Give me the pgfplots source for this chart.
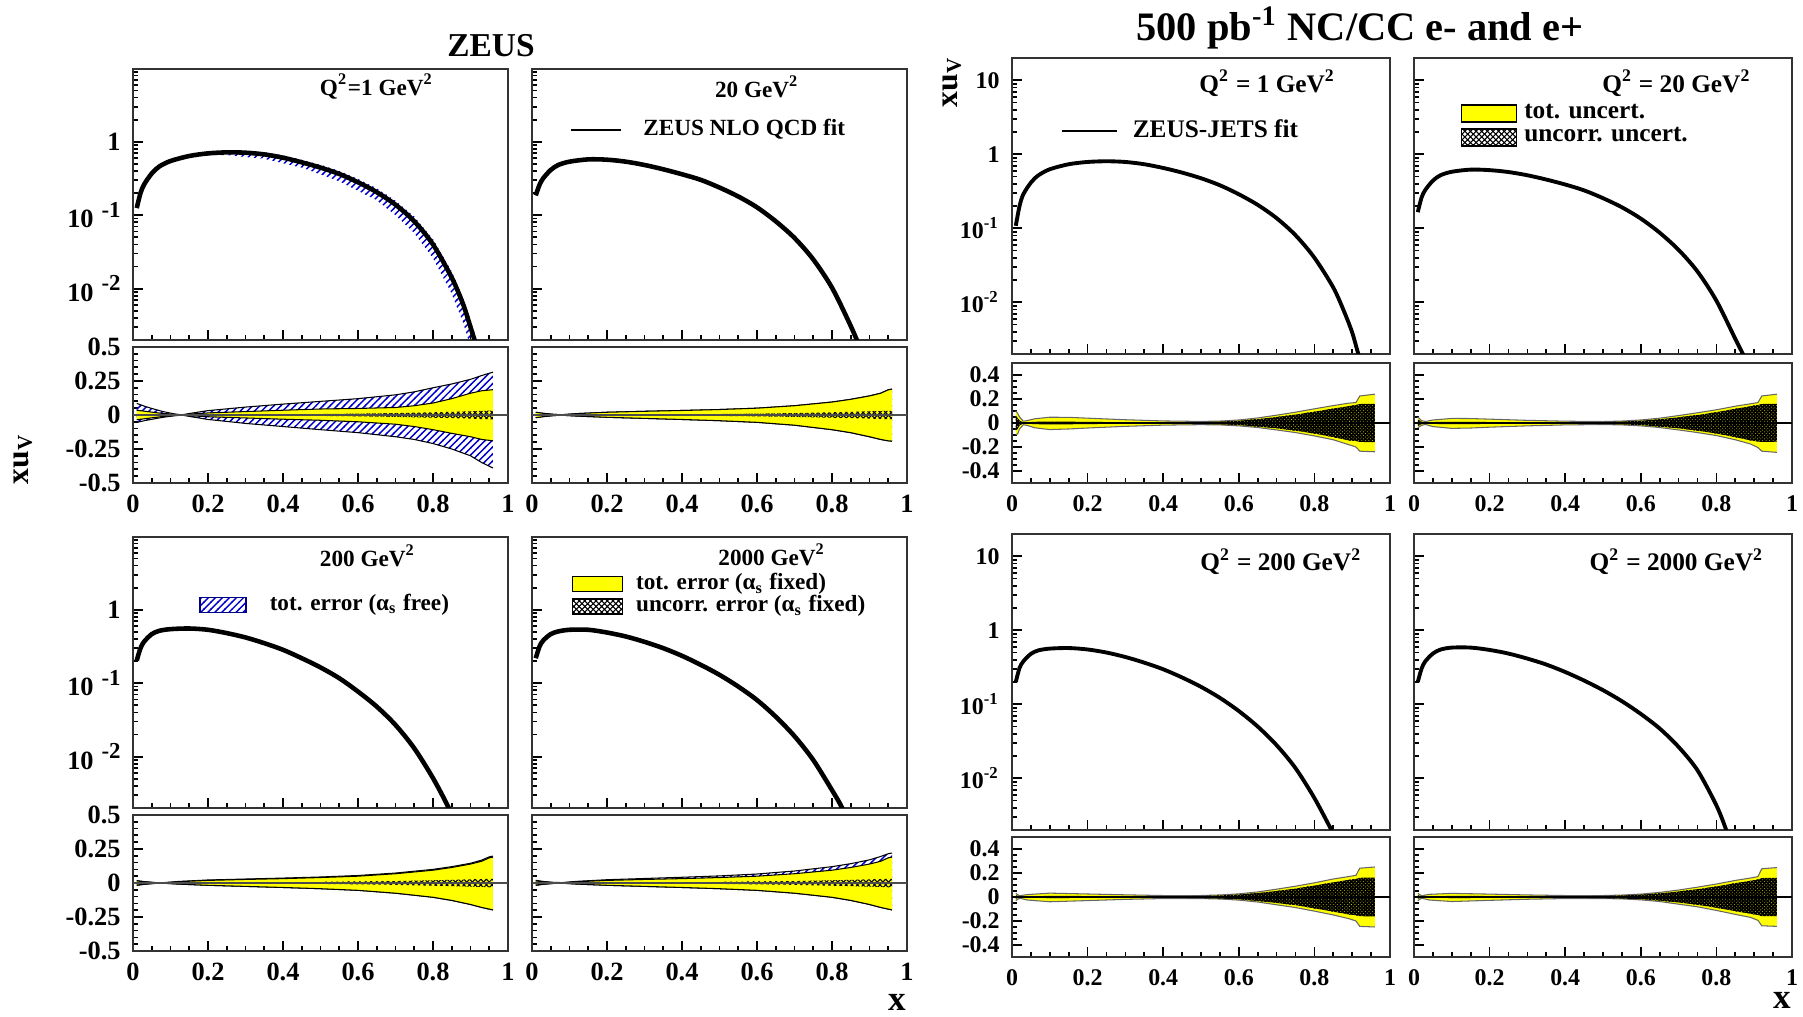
\documentclass[border=0pt]{standalone}
\usepackage{fontspec}
\setmainfont{Liberation Serif}
\usepackage{pgfplots}
\pgfplotsset{compat=1.18}
\usepackage{pgfplotstable}
\usetikzlibrary{patterns}

\pgfdeclarepatternformonly{bluehatch}{\pgfqpoint{-0.2pt}{-0.2pt}}{\pgfqpoint{2.2pt}{2.2pt}}{\pgfqpoint{2pt}{2pt}}{%
  \pgfsetlinewidth{0.4pt}%
  \pgfpathmoveto{\pgfqpoint{-0.2pt}{-0.2pt}}%
  \pgfpathlineto{\pgfqpoint{2.2pt}{2.2pt}}%
  \pgfusepath{stroke}}
\pgfdeclarepatternformonly{checker}{\pgfqpoint{-0.2pt}{-0.2pt}}{\pgfqpoint{1.8pt}{1.8pt}}{\pgfqpoint{1.6pt}{1.6pt}}{%
  \pgfsetlinewidth{0.3pt}%
  \pgfpathmoveto{\pgfqpoint{-0.2pt}{-0.2pt}}\pgfpathlineto{\pgfqpoint{1.8pt}{1.8pt}}%
  \pgfpathmoveto{\pgfqpoint{-0.2pt}{1.8pt}}\pgfpathlineto{\pgfqpoint{1.8pt}{-0.2pt}}%
  \pgfusepath{stroke}}
\pgfdeclarepatternformonly{darkcross}{\pgfqpoint{-0.1pt}{-0.1pt}}{\pgfqpoint{1.1pt}{1.1pt}}{\pgfqpoint{1pt}{1pt}}{%
  \pgfsetlinewidth{0.45pt}%
  \pgfpathmoveto{\pgfqpoint{-0.1pt}{-0.1pt}}\pgfpathlineto{\pgfqpoint{1.1pt}{1.1pt}}%
  \pgfpathmoveto{\pgfqpoint{-0.1pt}{1.1pt}}\pgfpathlineto{\pgfqpoint{1.1pt}{-0.1pt}}%
  \pgfusepath{stroke}}

\definecolor{rootyellow}{RGB}{255,255,0}

\newcommand{\zt}{\fontsize{7.5}{8}\selectfont\bfseries}
\newcommand{\jt}{\fontsize{6.8}{7.5}\selectfont\bfseries}
\newcommand{\pl}{\fontsize{6.6}{7.5}\selectfont\bfseries}
\newcommand{\pj}{\fontsize{7.2}{8}\selectfont\bfseries}
\newcommand{\zexp}[1]{10\hspace{0.3em}\raisebox{0.85ex}{\fontsize{6.5}{6.5}\selectfont #1}}
\newcommand{\jexp}[1]{10\textsuperscript{#1}}

% ---------------- main curves (xu_v) ----------------
\pgfplotstableread{
x y
0.01 0.125
0.02 0.20
0.03 0.264
0.05 0.37
0.07 0.46
0.10 0.547
0.15 0.64
0.20 0.695
0.25 0.717
0.30 0.71
0.35 0.673
0.40 0.607
0.45 0.525
0.50 0.445
0.55 0.365
0.60 0.281
0.65 0.206
0.70 0.139
0.75 0.0826
0.80 0.040
0.85 0.0141
0.88 0.0062
0.90 0.0030
0.92 0.0014
}\ZmA
\pgfplotstableread{
x y
0.01 0.186
0.02 0.259
0.03 0.319
0.05 0.413
0.07 0.483
0.10 0.536
0.15 0.576
0.20 0.570
0.25 0.536
0.30 0.483
0.35 0.422
0.40 0.361
0.45 0.303
0.50 0.238
0.55 0.180
0.60 0.128
0.65 0.0826
0.70 0.049
0.75 0.025
0.80 0.0103
0.85 0.0031
0.88 0.00135
}\ZmB
\pgfplotstableread{
x y
0.01 0.204
0.02 0.30
0.03 0.37
0.05 0.466
0.07 0.517
0.10 0.545
0.15 0.556
0.20 0.534
0.25 0.481
0.30 0.42
0.35 0.351
0.40 0.285
0.45 0.219
0.50 0.164
0.55 0.117
0.60 0.077
0.65 0.048
0.70 0.027
0.75 0.013
0.80 0.0051
0.84 0.0021
0.86 0.0012
}\ZmC
\pgfplotstableread{
x y
0.01 0.219
0.02 0.316
0.03 0.382
0.05 0.466
0.07 0.507
0.10 0.534
0.15 0.534
0.20 0.49
0.25 0.433
0.30 0.366
0.35 0.30
0.40 0.236
0.45 0.178
0.50 0.13
0.55 0.090
0.60 0.059
0.65 0.035
0.70 0.019
0.75 0.009
0.80 0.0035
0.825 0.0021
0.845 0.0012
}\ZmD
\pgfplotstableread{
x y
0.01 0.108
0.02 0.20
0.03 0.288
0.05 0.414
0.07 0.52
0.10 0.627
0.15 0.733
0.20 0.787
0.25 0.804
0.30 0.787
0.35 0.733
0.40 0.653
0.45 0.565
0.50 0.474
0.55 0.381
0.60 0.288
0.65 0.207
0.70 0.137
0.75 0.0805
0.80 0.040
0.85 0.0158
0.88 0.0072
0.90 0.0039
0.915 0.0021
0.93 0.0012
}\JmA
\pgfplotstableread{
x y
0.01 0.165
0.02 0.26
0.03 0.33
0.05 0.44
0.07 0.52
0.10 0.58
0.15 0.62
0.20 0.61
0.25 0.575
0.30 0.52
0.35 0.455
0.40 0.39
0.45 0.325
0.50 0.255
0.55 0.192
0.60 0.135
0.65 0.087
0.70 0.051
0.75 0.026
0.80 0.0105
0.85 0.0032
0.87 0.0020
0.88 0.0015
}\JmB
\pgfplotstableread{
x y
0.01 0.20
0.02 0.31
0.03 0.38
0.05 0.48
0.07 0.535
0.10 0.565
0.15 0.575
0.20 0.55
0.25 0.50
0.30 0.435
0.35 0.365
0.40 0.297
0.45 0.23
0.50 0.172
0.55 0.122
0.60 0.081
0.65 0.050
0.70 0.028
0.75 0.0137
0.80 0.0054
0.845 0.0020
0.86 0.0014
}\JmC
\pgfplotstableread{
x y
0.01 0.20
0.02 0.303
0.03 0.381
0.05 0.484
0.07 0.548
0.10 0.583
0.15 0.583
0.20 0.542
0.25 0.484
0.30 0.414
0.35 0.344
0.40 0.273
0.45 0.209
0.50 0.155
0.55 0.11
0.60 0.074
0.65 0.047
0.70 0.0265
0.75 0.0128
0.80 0.0043
0.826 0.0020
0.84 0.0012
}\JmD

% ---------------- ratio bands ----------------
\pgfplotstableread{
x bu bl yu yl cu cl
0.01 0.085 -0.055 0.035 -0.035 0.006 -0.006
0.03 0.065 -0.042 0.028 -0.028 0.005 -0.005
0.05 0.048 -0.032 0.021 -0.021 0.004 -0.004
0.08 0.025 -0.017 0.011 -0.011 0.003 -0.003
0.11 0.008 -0.006 0.004 -0.004 0.002 -0.002
0.13 0.001 -0.001 0.001 -0.001 0.001 -0.001
0.16 0.015 -0.015 0.008 -0.007 0.002 -0.002
0.20 0.032 -0.033 0.015 -0.013 0.003 -0.003
0.30 0.058 -0.062 0.025 -0.022 0.004 -0.004
0.40 0.080 -0.085 0.035 -0.031 0.005 -0.005
0.50 0.100 -0.108 0.044 -0.039 0.007 -0.007
0.60 0.120 -0.130 0.048 -0.050 0.010 -0.010
0.70 0.148 -0.160 0.055 -0.068 0.014 -0.014
0.75 0.170 -0.180 0.068 -0.085 0.017 -0.017
0.80 0.200 -0.210 0.088 -0.108 0.020 -0.020
0.85 0.228 -0.250 0.120 -0.135 0.023 -0.023
0.90 0.262 -0.300 0.160 -0.160 0.027 -0.027
0.93 0.290 -0.350 0.178 -0.180 0.030 -0.030
0.96 0.315 -0.390 0.186 -0.190 0.032 -0.032
}\ZrA
\pgfplotstableread{
x bu bl yu yl cu cl
0.01 0.020 -0.020 0.020 -0.020 0.004 -0.004
0.03 0.012 -0.012 0.012 -0.012 0.003 -0.003
0.06 0.004 -0.004 0.004 -0.004 0.001 -0.001
0.08 0.002 -0.002 0.002 -0.002 0.001 -0.001
0.12 0.010 -0.008 0.010 -0.008 0.002 -0.002
0.20 0.020 -0.017 0.020 -0.017 0.003 -0.003
0.30 0.027 -0.025 0.027 -0.025 0.004 -0.004
0.40 0.033 -0.033 0.033 -0.033 0.005 -0.005
0.50 0.040 -0.042 0.040 -0.042 0.007 -0.007
0.60 0.050 -0.054 0.050 -0.054 0.010 -0.010
0.70 0.068 -0.075 0.068 -0.075 0.014 -0.014
0.80 0.095 -0.108 0.095 -0.108 0.020 -0.020
0.85 0.115 -0.130 0.115 -0.130 0.023 -0.023
0.90 0.140 -0.160 0.140 -0.160 0.027 -0.027
0.93 0.160 -0.180 0.160 -0.180 0.029 -0.029
0.95 0.185 -0.190 0.185 -0.190 0.031 -0.031
0.96 0.190 -0.192 0.190 -0.192 0.031 -0.031
}\ZrB
\pgfplotstableread{
x bu bl yu yl cu cl
0.01 0.018 -0.018 0.015 -0.015 0.004 -0.004
0.03 0.010 -0.010 0.009 -0.009 0.003 -0.003
0.06 0.003 -0.003 0.002 -0.002 0.001 -0.001
0.08 0.002 -0.002 0.001 -0.001 0.001 -0.001
0.12 0.011 -0.008 0.009 -0.008 0.002 -0.002
0.20 0.022 -0.017 0.019 -0.017 0.003 -0.003
0.30 0.029 -0.025 0.026 -0.025 0.004 -0.004
0.40 0.036 -0.033 0.032 -0.033 0.005 -0.005
0.50 0.044 -0.042 0.040 -0.042 0.007 -0.007
0.60 0.055 -0.054 0.050 -0.054 0.010 -0.010
0.70 0.073 -0.075 0.068 -0.075 0.014 -0.014
0.80 0.100 -0.105 0.094 -0.105 0.020 -0.020
0.85 0.120 -0.128 0.114 -0.128 0.023 -0.023
0.90 0.145 -0.158 0.139 -0.158 0.027 -0.027
0.93 0.168 -0.180 0.160 -0.180 0.029 -0.029
0.95 0.192 -0.192 0.185 -0.192 0.031 -0.031
0.96 0.198 -0.198 0.190 -0.198 0.031 -0.031
}\ZrC
\pgfplotstableread{
x bu bl yu yl cu cl
0.01 0.020 -0.018 0.015 -0.015 0.004 -0.004
0.03 0.011 -0.010 0.009 -0.009 0.003 -0.003
0.06 0.004 -0.003 0.002 -0.002 0.001 -0.001
0.08 0.003 -0.002 0.001 -0.001 0.001 -0.001
0.12 0.012 -0.008 0.009 -0.008 0.002 -0.002
0.20 0.024 -0.017 0.019 -0.017 0.003 -0.003
0.30 0.033 -0.025 0.026 -0.025 0.004 -0.004
0.40 0.042 -0.033 0.032 -0.033 0.005 -0.005
0.50 0.052 -0.042 0.040 -0.042 0.007 -0.007
0.60 0.066 -0.054 0.050 -0.054 0.010 -0.010
0.70 0.088 -0.075 0.068 -0.075 0.014 -0.014
0.80 0.120 -0.105 0.094 -0.105 0.020 -0.020
0.85 0.142 -0.128 0.114 -0.128 0.023 -0.023
0.90 0.170 -0.158 0.139 -0.158 0.027 -0.027
0.93 0.195 -0.180 0.160 -0.180 0.029 -0.029
0.95 0.215 -0.192 0.185 -0.192 0.031 -0.031
0.96 0.220 -0.198 0.190 -0.198 0.031 -0.031
}\ZrD
\pgfplotstableread{
x yu yl cu cl
0.01 0.10 -0.10 0.06 -0.06
0.015 0.08 -0.09 0.04 -0.05
0.02 0.05 -0.05 0.02 -0.02
0.03 0.015 -0.015 0.005 -0.005
0.04 0.02 -0.02 0.006 -0.006
0.06 0.035 -0.04 0.01 -0.01
0.10 0.048 -0.055 0.012 -0.012
0.15 0.047 -0.050 0.011 -0.011
0.20 0.040 -0.042 0.009 -0.009
0.30 0.027 -0.028 0.007 -0.007
0.40 0.017 -0.018 0.006 -0.006
0.50 0.013 -0.014 0.008 -0.009
0.55 0.016 -0.016 0.012 -0.012
0.60 0.025 -0.024 0.019 -0.018
0.65 0.042 -0.038 0.032 -0.030
0.70 0.065 -0.058 0.050 -0.045
0.75 0.090 -0.080 0.070 -0.064
0.80 0.118 -0.108 0.094 -0.088
0.85 0.145 -0.140 0.120 -0.118
0.89 0.165 -0.180 0.140 -0.145
0.91 0.170 -0.200 0.150 -0.150
0.92 0.225 -0.235 0.158 -0.158
0.96 0.240 -0.240 0.160 -0.160
}\JrA
\pgfplotstableread{
x yu yl cu cl
0.01 0.05 -0.04 0.03 -0.025
0.02 0.02 -0.02 0.01 -0.01
0.03 0.012 -0.012 0.005 -0.005
0.05 0.025 -0.03 0.008 -0.008
0.10 0.038 -0.045 0.010 -0.010
0.15 0.037 -0.042 0.009 -0.009
0.20 0.032 -0.035 0.008 -0.008
0.30 0.022 -0.024 0.006 -0.006
0.40 0.015 -0.016 0.006 -0.006
0.50 0.012 -0.013 0.008 -0.009
0.55 0.016 -0.016 0.012 -0.012
0.60 0.025 -0.024 0.019 -0.018
0.65 0.040 -0.038 0.031 -0.030
0.70 0.062 -0.058 0.048 -0.045
0.75 0.085 -0.080 0.066 -0.064
0.80 0.110 -0.105 0.090 -0.088
0.85 0.140 -0.140 0.118 -0.118
0.89 0.160 -0.175 0.140 -0.145
0.91 0.170 -0.205 0.150 -0.155
0.92 0.225 -0.235 0.158 -0.158
0.96 0.240 -0.245 0.160 -0.156
}\JrB
\pgfplotstableread{
x yu yl cu cl
0.01 0.03 -0.03 0.015 -0.015
0.02 0.01 -0.01 0.005 -0.005
0.04 0.02 -0.025 0.006 -0.006
0.10 0.032 -0.04 0.009 -0.009
0.20 0.025 -0.030 0.008 -0.008
0.30 0.018 -0.020 0.006 -0.006
0.40 0.012 -0.013 0.006 -0.006
0.50 0.012 -0.013 0.009 -0.010
0.55 0.017 -0.017 0.013 -0.013
0.60 0.026 -0.026 0.020 -0.020
0.65 0.042 -0.042 0.033 -0.033
0.70 0.065 -0.065 0.050 -0.050
0.75 0.090 -0.088 0.070 -0.068
0.80 0.118 -0.118 0.095 -0.095
0.85 0.150 -0.150 0.122 -0.122
0.89 0.170 -0.180 0.142 -0.145
0.91 0.180 -0.200 0.150 -0.152
0.92 0.240 -0.245 0.160 -0.160
0.96 0.250 -0.250 0.162 -0.162
}\JrC
\pgfplotstableread{
x yu yl cu cl
0.01 0.03 -0.03 0.015 -0.015
0.02 0.01 -0.01 0.005 -0.005
0.04 0.022 -0.025 0.006 -0.006
0.10 0.030 -0.038 0.009 -0.009
0.20 0.024 -0.028 0.008 -0.008
0.30 0.017 -0.019 0.006 -0.006
0.40 0.012 -0.013 0.006 -0.006
0.50 0.012 -0.013 0.009 -0.010
0.55 0.016 -0.016 0.013 -0.013
0.60 0.024 -0.024 0.019 -0.019
0.65 0.038 -0.038 0.030 -0.030
0.70 0.058 -0.060 0.046 -0.046
0.75 0.082 -0.082 0.065 -0.065
0.80 0.108 -0.112 0.088 -0.090
0.85 0.138 -0.145 0.115 -0.118
0.89 0.158 -0.170 0.135 -0.140
0.91 0.170 -0.195 0.145 -0.150
0.92 0.235 -0.240 0.158 -0.160
0.96 0.245 -0.245 0.160 -0.160
}\JrD

\pgfplotsset{
  mybase/.style={scale only axis, anchor=south west, xmin=0, xmax=1,
    axis line style={black!80, line width=0.55pt},
    tick align=inside, xtick pos=left, ytick pos=left,
    xtick={0,0.2,0.4,0.6,0.8,1}, minor x tick num=3,
    tick style={black, line width=0.5pt},
    major tick length=0.1cm, minor tick length=0.05cm},
  zmain/.style={mybase, width=3.75cm, height=2.71cm, ymin=0.002, ymax=9.8,
    ytick={0.01,0.1,1},
    minor ytick={0.002,0.003,0.004,0.005,0.006,0.007,0.008,0.009,0.02,0.03,0.04,0.05,0.06,0.07,0.08,0.09,0.2,0.3,0.4,0.5,0.6,0.7,0.8,0.9,2,3,4,5,6,7,8,9},
    xticklabels={}, yticklabels={},
    yticklabel style={font=\zt}},
  zrat/.style={mybase, width=3.75cm, height=1.36cm, ymin=-0.5, ymax=0.5,
    ytick={-0.5,-0.25,0,0.25,0.5}, minor y tick num=4, yticklabels={},
    xticklabels={0,0.2,0.4,0.6,0.8,1}, ticklabel style={font=\zt}},
  jmain/.style={mybase, width=3.78cm, height=2.96cm, ymin=0.002, ymax=20,
    ytick={0.01,0.1,1,10},
    minor ytick={0.002,0.003,0.004,0.005,0.006,0.007,0.008,0.009,0.02,0.03,0.04,0.05,0.06,0.07,0.08,0.09,0.2,0.3,0.4,0.5,0.6,0.7,0.8,0.9,2,3,4,5,6,7,8,9},
    xticklabels={}, yticklabels={},
    yticklabel style={font=\jt}},
  jrat/.style={mybase, width=3.78cm, height=1.2cm, ymin=-0.5, ymax=0.5,
    ytick={-0.4,-0.2,0,0.2,0.4}, minor y tick num=3, yticklabels={},
    xticklabels={0,0.2,0.4,0.6,0.8,1}, ticklabel style={font=\jt}},
}

% every band is >= 0 above and <= 0 below: union of (upper..0) and (lower..0)
\newcommand{\band}[4]{%
  \addplot[#4, draw=none, forget plot] table[x=x,y=#2]{#1} \closedcycle;
  \addplot[#4, draw=none, forget plot] table[x=x,y=#3]{#1} \closedcycle;
}
\newcommand{\zratio}[1]{%
  \band{#1}{bu}{bl}{pattern=bluehatch, pattern color=blue!80!black}
  \addplot[black, line width=0.3pt, forget plot] table[x=x,y=bu]{#1};
  \addplot[black, line width=0.3pt, forget plot] table[x=x,y=bl]{#1};
  \band{#1}{yu}{yl}{fill=rootyellow}
  \addplot[black, line width=0.3pt, forget plot] table[x=x,y=yu]{#1};
  \addplot[black, line width=0.3pt, forget plot] table[x=x,y=yl]{#1};
  \band{#1}{cu}{cl}{pattern=checker, pattern color=black}
  \addplot[black!70, line width=0.4pt, forget plot] coordinates {(0,0) (1,0)};
}
\newcommand{\jratio}[1]{%
  \band{#1}{yu}{yl}{fill=rootyellow}
  \addplot[black!60, line width=0.3pt, forget plot] table[x=x,y=yu]{#1};
  \addplot[black!60, line width=0.3pt, forget plot] table[x=x,y=yl]{#1};
  \band{#1}{cu}{cl}{pattern=darkcross, pattern color=black}
  \addplot[black, line width=0.4pt, forget plot] coordinates {(0,0) (1,0)};
}

\begin{document}
\begin{tikzpicture}
\path[use as bounding box] (0,0) rectangle (18.03,10.17);

% ===================== ZEUS (left half) =====================
\begin{semilogyaxis}[zmain, at={(1.33cm,6.77cm)},
  yticklabels={\zexp{-2},\zexp{-1},1\hspace{0.9em}}]
  \addplot[pattern=bluehatch, pattern color=blue!80!black, draw=none, forget plot] coordinates {
   (0.01,0.135)(0.02,0.214)(0.03,0.280)(0.05,0.389)(0.07,0.476)(0.10,0.555)(0.15,0.643)(0.20,0.716)
   (0.25,0.749)(0.30,0.749)(0.35,0.717)(0.40,0.653)(0.45,0.567)(0.50,0.485)(0.55,0.402)(0.60,0.312)
   (0.65,0.232)(0.70,0.158)(0.75,0.0958)(0.80,0.0472)(0.85,0.0171)(0.88,0.0076)(0.90,0.00375)(0.92,0.00179)
   (0.92,0.00070)(0.90,0.0016)(0.88,0.0035)(0.85,0.0085)(0.80,0.026)(0.75,0.057)(0.70,0.100)(0.65,0.160)
   (0.60,0.215)(0.55,0.290)(0.50,0.360)(0.45,0.445)(0.40,0.510)(0.35,0.590)(0.30,0.620)(0.25,0.660)
   (0.20,0.660)(0.15,0.632)(0.10,0.540)(0.07,0.451)(0.05,0.359)(0.03,0.253)(0.02,0.191)(0.01,0.119)} --cycle;
  \addplot[black, line width=1.3pt, smooth, forget plot] table[x=x,y=y]{\ZmA};
  \node[font=\pl] at (rel axis cs:0.65,0.935) {Q\textsuperscript{2}=1 GeV\textsuperscript{2}};
\end{semilogyaxis}
\begin{axis}[zrat, at={(1.33cm,5.34cm)},
  yticklabels={-0.5,-0.25,0,0.25,0.5}]
  \zratio{\ZrA}
\end{axis}

\begin{semilogyaxis}[zmain, at={(5.32cm,6.77cm)},
  legend style={at={(0.10,0.775)}, anchor=west, draw=none, fill=none, font=\pl, inner sep=0pt,
    /tikz/every odd column/.append style={column sep=0.14cm}},
  legend cell align=left,
  legend image code/.code={\draw[#1] (0cm,0cm) -- (0.5cm,0cm);}]
  \addlegendimage{black, line width=0.6pt}
  \addlegendentry{ZEUS NLO QCD fit}
  \addplot[black, line width=1.3pt, smooth, forget plot] table[x=x,y=y]{\ZmB};
  \node[font=\pl] at (rel axis cs:0.60,0.935) {20 GeV\textsuperscript{2}};
\end{semilogyaxis}
\begin{axis}[zrat, at={(5.32cm,5.34cm)}]
  \zratio{\ZrB}
\end{axis}

\begin{semilogyaxis}[zmain, at={(1.33cm,2.09cm)},
  yticklabels={\zexp{-2},\zexp{-1},1\hspace{0.9em}},
  legend style={at={(0.175,0.75)}, anchor=west, draw=none, fill=none, font=\pl, inner sep=0pt,
    /tikz/every odd column/.append style={column sep=0.16cm}},
  legend cell align=left,
  legend image code/.code={\draw[#1] (0cm,-0.075cm) rectangle (0.46cm,0.075cm);}]
  \addlegendimage{pattern=bluehatch, pattern color=blue!80!black, draw=blue!50!black}
  \addlegendentry{tot. error (α\textsubscript{s} free)}
  \addplot[black, line width=1.3pt, smooth, forget plot] table[x=x,y=y]{\ZmC};
  \node[font=\pl] at (rel axis cs:0.626,0.93) {200 GeV\textsuperscript{2}};
\end{semilogyaxis}
\begin{axis}[zrat, at={(1.33cm,0.66cm)},
  yticklabels={-0.5,-0.25,0,0.25,0.5}]
  \zratio{\ZrC}
\end{axis}

\begin{semilogyaxis}[zmain, at={(5.32cm,2.09cm)},
  legend style={at={(0.104,0.785)}, anchor=west, draw=none, fill=none, font=\pl, inner sep=0pt, row sep=-3.8pt,
    /tikz/every odd column/.append style={column sep=0.06cm}},
  legend cell align=left,
  legend image code/.code={\draw[#1] (0cm,-0.075cm) rectangle (0.5cm,0.075cm);}]
  \addlegendimage{fill=rootyellow, draw=black}
  \addlegendentry{tot. error (α\textsubscript{s} fixed)}
  \addlegendimage{pattern=checker, pattern color=black, draw=black}
  \addlegendentry{uncorr. error (α\textsubscript{s} fixed)}
  \addplot[black, line width=1.3pt, smooth, forget plot] table[x=x,y=y]{\ZmD};
  \node[font=\pl] at (rel axis cs:0.64,0.935) {2000 GeV\textsuperscript{2}};
\end{semilogyaxis}
\begin{axis}[zrat, at={(5.32cm,0.66cm)}]
  \zratio{\ZrD}
\end{axis}

\node[font=\fontsize{9.5}{10}\selectfont\bfseries] at (4.91,9.71) {ZEUS};
\node[font=\fontsize{9}{10}\selectfont\bfseries, rotate=90] at (0.23,5.58) {xu\textsubscript{V}};
\node[font=\fontsize{10}{11}\selectfont\bfseries] at (8.97,0.15) {x};

% ===================== JETS (right half) =====================
\begin{semilogyaxis}[jmain, at={(10.12cm,6.63cm)},
  yticklabels={\jexp{-2},\jexp{-1},1,10},
  legend style={at={(0.127,0.752)}, anchor=west, draw=none, fill=none, font=\pj, inner sep=0pt,
    /tikz/every odd column/.append style={column sep=0.08cm}},
  legend cell align=left,
  legend image code/.code={\draw[#1] (0cm,0cm) -- (0.55cm,0cm);}]
  \addlegendimage{black, line width=0.6pt}
  \addlegendentry{ZEUS-JETS fit}
  \addplot[black, line width=1.1pt, smooth, forget plot] table[x=x,y=y]{\JmA};
  \node[font=\pj] at (rel axis cs:0.676,0.915) {Q\textsuperscript{2} = 1 GeV\textsuperscript{2}};
\end{semilogyaxis}
\begin{axis}[jrat, at={(10.12cm,5.34cm)},
  yticklabels={-0.4,-0.2,0,0.2,0.4}]
  \jratio{\JrA}
\end{axis}

\begin{semilogyaxis}[jmain, at={(14.14cm,6.63cm)},
  legend style={at={(0.122,0.772)}, anchor=west, draw=none, fill=none, font=\pj, inner sep=0pt, row sep=-2.8pt},
  legend cell align=left,
  legend image code/.code={\draw[#1] (0cm,-0.085cm) rectangle (0.55cm,0.085cm);}]
  \addlegendimage{fill=rootyellow, draw=black}
  \addlegendentry{tot. uncert.}
  \addlegendimage{pattern=checker, pattern color=black, draw=black}
  \addlegendentry{uncorr. uncert.}
  \addplot[black, line width=1.1pt, smooth, forget plot] table[x=x,y=y]{\JmB};
  \node[font=\pj] at (rel axis cs:0.695,0.915) {Q\textsuperscript{2} = 20 GeV\textsuperscript{2}};
\end{semilogyaxis}
\begin{axis}[jrat, at={(14.14cm,5.34cm)}]
  \jratio{\JrB}
\end{axis}

\begin{semilogyaxis}[jmain, at={(10.12cm,1.87cm)},
  yticklabels={\jexp{-2},\jexp{-1},1,10}]
  \addplot[black, line width=1.1pt, smooth, forget plot] table[x=x,y=y]{\JmC};
  \node[font=\pj] at (rel axis cs:0.712,0.907) {Q\textsuperscript{2} = 200 GeV\textsuperscript{2}};
\end{semilogyaxis}
\begin{axis}[jrat, at={(10.12cm,0.60cm)},
  yticklabels={-0.4,-0.2,0,0.2,0.4}]
  \jratio{\JrC}
\end{axis}

\begin{semilogyaxis}[jmain, at={(14.14cm,1.87cm)}]
  \addplot[black, line width=1.1pt, smooth, forget plot] table[x=x,y=y]{\JmD};
  \node[font=\pj] at (rel axis cs:0.695,0.907) {Q\textsuperscript{2} = 2000 GeV\textsuperscript{2}};
\end{semilogyaxis}
\begin{axis}[jrat, at={(14.14cm,0.60cm)}]
  \jratio{\JrD}
\end{axis}

\node[font=\fontsize{11.5}{12}\selectfont\bfseries] at (13.60,9.89) {500 pb\textsuperscript{-1} NC/CC e- and e+};
\node[font=\fontsize{9}{10}\selectfont\bfseries, rotate=90] at (9.52,9.35) {xu\textsubscript{V}};
\node[font=\fontsize{10}{11}\selectfont\bfseries] at (17.82,0.17) {x};
\end{tikzpicture}
\end{document}
